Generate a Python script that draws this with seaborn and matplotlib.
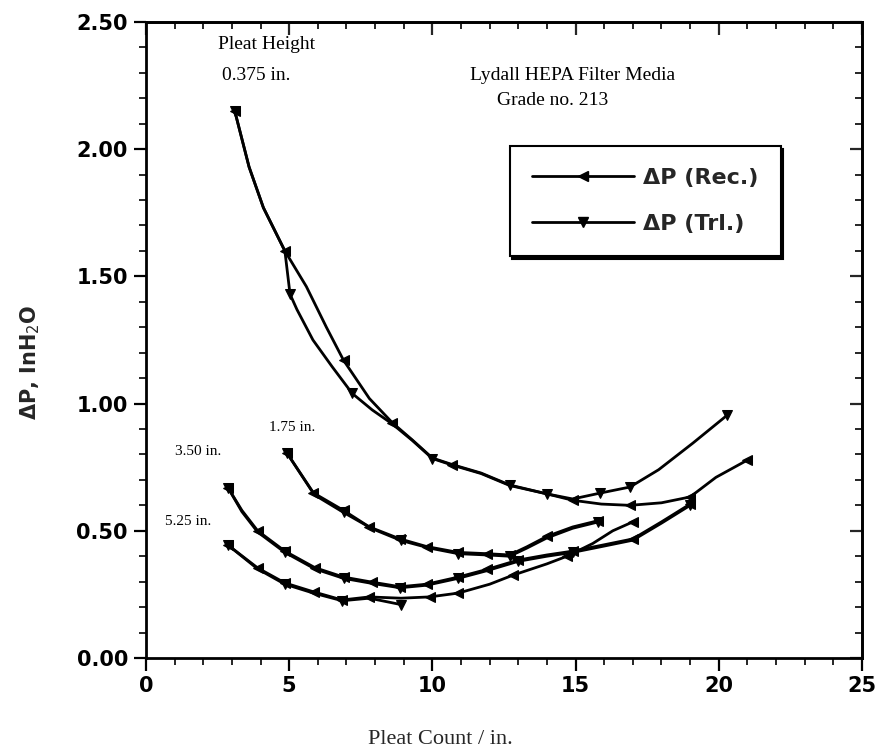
import numpy as np
import pandas as pd
import seaborn as sns
import matplotlib
matplotlib.use("Agg")
import matplotlib.pyplot as plt
from matplotlib.lines import Line2D
from matplotlib.ticker import MultipleLocator, FixedLocator, FormatStrFormatter

# ---------------- data ----------------
# Pleat height 0.375 in.
x_0375_rec = [3.1, 3.6, 4.1, 4.85, 5.6, 6.3, 6.9, 7.8, 8.6, 9.3, 10.0, 10.7, 11.7,
              12.7, 14.0, 14.9, 15.9, 16.9, 18.0, 19.0, 19.9, 21.0]
y_0375_rec = [2.15, 1.93, 1.77, 1.60, 1.46, 1.30, 1.17, 1.02, 0.925, 0.857, 0.786,
              0.76, 0.727, 0.68, 0.645, 0.62, 0.605, 0.60, 0.61, 0.633, 0.71, 0.778]
x_0375_trl = [3.1, 3.6, 4.1, 4.85, 5.03, 5.27, 5.83, 6.5, 7.2, 7.9, 8.6, 9.3, 10.0,
              10.7, 11.7, 12.7, 14.0, 14.9, 15.85, 16.9, 17.9, 19.1, 20.3]
y_0375_trl = [2.15, 1.93, 1.77, 1.60, 1.43, 1.37, 1.25, 1.145, 1.04, 0.975, 0.92,
              0.855, 0.784, 0.758, 0.725, 0.678, 0.645, 0.625, 0.648, 0.672, 0.74,
              0.845, 0.955]
# Pleat height 1.75 in.
x_175_rec = [4.92, 5.83, 6.9, 7.8, 8.87, 9.8, 10.9, 11.9, 12.7, 13.3, 14.0, 14.9, 15.8]
y_175_rec = [0.806, 0.65, 0.58, 0.515, 0.468, 0.438, 0.415, 0.41, 0.405, 0.437,
             0.478, 0.515, 0.54]
x_175_trl = [4.92, 5.9, 6.9, 7.9, 8.9, 9.9, 10.9, 11.9, 12.7, 13.3, 14.0, 14.9, 15.8]
y_175_trl = [0.806, 0.64, 0.572, 0.508, 0.462, 0.432, 0.41, 0.405, 0.40, 0.432,
             0.472, 0.51, 0.535]
# Pleat height 3.50 in.
x_350_rec = [2.86, 3.35, 3.9, 4.85, 5.9, 6.9, 7.9, 8.87, 9.8, 10.9, 11.9, 13.0,
             14.0, 14.9, 16.0, 17.0, 18.0, 19.0]
y_350_rec = [0.67, 0.58, 0.50, 0.42, 0.355, 0.318, 0.298, 0.28, 0.29, 0.318, 0.348,
             0.385, 0.405, 0.42, 0.445, 0.468, 0.535, 0.605]
x_350_trl = [2.86, 3.35, 3.9, 4.85, 5.9, 6.9, 7.9, 8.87, 9.8, 10.9, 11.9, 13.0,
             14.0, 14.9, 16.0, 17.0, 18.0, 19.0]
y_350_trl = [0.67, 0.575, 0.495, 0.415, 0.35, 0.313, 0.293, 0.276, 0.286, 0.313,
             0.343, 0.38, 0.40, 0.415, 0.44, 0.463, 0.53, 0.60]
# Pleat height 5.25 in.
x_525_rec = [2.86, 3.9, 4.85, 5.85, 6.85, 7.8, 8.9, 9.9, 10.9, 12.0, 12.8, 14.0,
             14.7, 15.6, 16.3, 17.0]
y_525_rec = [0.444, 0.354, 0.295, 0.26, 0.228, 0.24, 0.235, 0.24, 0.255, 0.29,
             0.325, 0.37, 0.40, 0.45, 0.50, 0.535]
x_525_trl = [2.86, 3.9, 4.85, 5.85, 6.85, 7.8, 8.9]
y_525_trl = [0.444, 0.35, 0.29, 0.255, 0.225, 0.235, 0.21]

x_ticks = [0, 5, 10, 15, 20, 25]
y_ticks = [0.0, 0.5, 1.0, 1.5, 2.0, 2.5]
legend_labels = ["\u0394P (Rec.)", "\u0394P (Trl.)"]
curve_labels = ["0.375 in.", "1.75 in.", "3.50 in.", "5.25 in."]

# which traced points carry a marker (indices into the arrays above)
mark_0375_rec = [0, 3, 6, 8, 11, 15, 17, 19, 21]
mark_0375_trl = [0, 4, 8, 12, 15, 16, 18, 19, 22]
mark_175_rec = [0, 1, 2, 3, 4, 5, 6, 7, 8, 10, 12]
mark_175_trl = [0, 2, 4, 6, 8, 12]
mark_350_rec = [0, 2, 3, 4, 5, 6, 7, 8, 9, 10, 11, 13, 15, 17]
mark_350_trl = [0, 3, 5, 7, 9, 11, 13, 17]
mark_525_rec = [0, 1, 2, 3, 4, 5, 7, 8, 10, 12, 15]
mark_525_trl = [0, 2, 4, 6]

# ---------------- figure ----------------
sns.set_theme(style="white")
plt.rcParams["font.family"] = ["DejaVu Sans"]

fig = plt.figure(figsize=(8.82, 7.55), dpi=100)
ax = fig.add_axes([0.1655, 0.1285, 0.9773 - 0.1655, 0.9709 - 0.1285])

series = [
    (x_0375_rec, y_0375_rec, "rec", mark_0375_rec), (x_0375_trl, y_0375_trl, "trl", mark_0375_trl),
    (x_175_rec, y_175_rec, "rec", mark_175_rec), (x_175_trl, y_175_trl, "trl", mark_175_trl),
    (x_350_rec, y_350_rec, "rec", mark_350_rec), (x_350_trl, y_350_trl, "trl", mark_350_trl),
    (x_525_rec, y_525_rec, "rec", mark_525_rec), (x_525_trl, y_525_trl, "trl", mark_525_trl),
]
mk = {"rec": "<", "trl": "v"}
for xs, ys, kind, idx in series:
    sns.lineplot(x=xs, y=ys, ax=ax, color="black", linewidth=2.0,
                 marker=mk[kind], markersize=7, markeredgecolor="black",
                 markevery=idx, estimator=None, sort=False)

ax.set_xlim(0, 25)
ax.set_ylim(0, 2.5)

for s in ax.spines.values():
    s.set_visible(True)
    s.set_color("black")
    s.set_linewidth(2.0)

ax.xaxis.set_major_locator(FixedLocator(x_ticks))
ax.xaxis.set_minor_locator(MultipleLocator(1))
ax.yaxis.set_major_locator(FixedLocator(y_ticks))
ax.yaxis.set_minor_locator(MultipleLocator(0.1))
ax.yaxis.set_major_formatter(FormatStrFormatter("%.2f"))
ax.xaxis.set_major_formatter(FormatStrFormatter("%d"))
ax.tick_params(axis="both", which="major", direction="out", length=9, width=1.6,
               labelsize=15, colors="black", bottom=True, left=True, pad=4)
ax.tick_params(axis="both", which="minor", direction="out", length=5, width=1.4,
               bottom=True, left=True)
for lab in ax.get_xticklabels() + ax.get_yticklabels():
    lab.set_fontweight("bold")

# inward ticks on top and right
top = ax.secondary_xaxis("top")
top.xaxis.set_major_locator(FixedLocator(x_ticks))
top.xaxis.set_minor_locator(MultipleLocator(1))
top.tick_params(which="major", direction="in", length=9, width=1.6, labeltop=False)
top.tick_params(which="minor", direction="in", length=5, width=1.4)
top.spines["top"].set_linewidth(2.0)
right = ax.secondary_yaxis("right")
right.yaxis.set_major_locator(FixedLocator(y_ticks))
right.yaxis.set_minor_locator(MultipleLocator(0.1))
right.tick_params(which="major", direction="in", length=9, width=1.6, labelright=False)
right.tick_params(which="minor", direction="in", length=5, width=1.4)
right.spines["right"].set_linewidth(2.0)

ax.set_xlabel("")
ax.set_ylabel("")
fig.text(0.034, 0.52, "\u0394P, InH$_2$O", fontsize=15, fontweight="bold",
         rotation=90, ha="center", va="center")

fig.text(0.499, 0.02, "Pleat Count / in.", fontsize=16,
         family="Liberation Serif", ha="center", va="center")

serif = dict(family="Liberation Serif", color="black")
ax.text(2.5, 2.41, "Pleat Height", fontsize=14, ha="left", va="center", **serif)
ax.text(2.65, 2.29, curve_labels[0], fontsize=14, ha="left", va="center", **serif)
ax.text(11.3, 2.29, "Lydall HEPA Filter Media", fontsize=14, ha="left", va="center", **serif)
ax.text(12.25, 2.19, "Grade no. 213", fontsize=14, ha="left", va="center", **serif)
ax.text(4.3, 0.905, curve_labels[1], fontsize=11, ha="left", va="center", **serif)
ax.text(1.0, 0.81, curve_labels[2], fontsize=11, ha="left", va="center", **serif)
ax.text(0.65, 0.535, curve_labels[3], fontsize=11, ha="left", va="center", **serif)

handles = [Line2D([], [], color="black", lw=2.0, marker="<", markersize=7),
           Line2D([], [], color="black", lw=2.0, marker="v", markersize=7)]
leg = ax.legend(handles, legend_labels, loc="upper left",
                bbox_to_anchor=(0.508, 0.805), frameon=True, fancybox=False,
                shadow={"color": "black", "alpha": 1.0},
                prop={"weight": "bold", "size": 16}, handlelength=4.6,
                labelspacing=1.15, borderpad=1.0, handletextpad=0.4,
                borderaxespad=0.0)
leg.get_frame().set_edgecolor("black")
leg.get_frame().set_linewidth(1.5)
leg.get_frame().set_alpha(1.0)

fig.savefig("out.png", dpi=100, facecolor="white")
